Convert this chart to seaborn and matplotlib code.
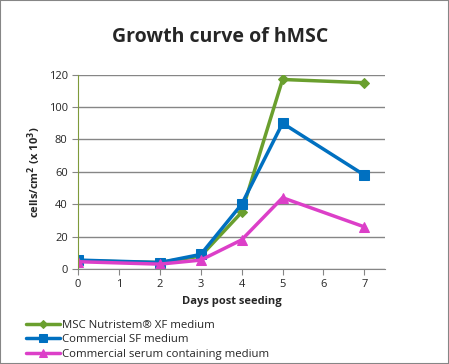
import pandas as pd
import numpy as np
import matplotlib
matplotlib.use("Agg")
import matplotlib.pyplot as plt
import seaborn as sns

days = [0, 2, 3, 4, 5, 7]
nutristem = [5, 4, 8, 35, 117, 115]
commercial_sf = [5.5, 4, 9, 40, 90, 58]
serum = [4.5, 3, 5.5, 18, 44, 26]

series_names = ["MSC Nutristem® XF medium",
                "Commercial SF medium",
                "Commercial serum containing medium"]
colors = ["#6a9f2e", "#0070c0", "#dc3fc8"]
markers = ["D", "s", "^"]
marker_sizes = [5, 7, 7]

sns.set_style("white")
plt.rcParams['font.family'] = ['Open Sans', 'DejaVu Sans']

fig = plt.figure(figsize=(4.49, 3.64), dpi=100)
ax = fig.add_axes([0.174, 0.261, 0.683, 0.534])

for name, vals, c, m, ms in zip(series_names, [nutristem, commercial_sf, serum],
                                colors, markers, marker_sizes):
    df = pd.DataFrame({"day": days, "val": vals})
    sns.lineplot(data=df, x="day", y="val", ax=ax, color=c, marker=m,
                 markersize=ms, markeredgecolor=c, linewidth=2.5, label=name)

ax.set_xlim(0, 7.5)
ax.set_ylim(0, 120)
ax.set_xticks(range(0, 8))
ax.set_yticks(range(0, 121, 20))
ax.yaxis.grid(True, color="#868686", linewidth=1)
ax.set_axisbelow(True)
ax.tick_params(axis="both", labelsize=8, length=4, direction="out", color="#868686",
               bottom=True, left=True)
for s in ["top", "right"]:
    ax.spines[s].set_visible(False)
ax.spines["left"].set_color("#7f9a3a")
ax.spines["bottom"].set_color("#868686")

ax.set_xlabel("Days post seeding", fontsize=8, fontweight="bold")
ax.set_ylabel("cells/cm$^\\mathbf{2}$ (x 10$^\\mathbf{3}$)", fontsize=8, fontweight="bold")

fig.suptitle("Growth curve of hMSC", x=0.49, y=0.925, fontsize=14, fontweight="bold")

handles, labels = ax.get_legend_handles_labels()
ax.get_legend().remove()
fig.legend(handles, labels, loc="lower left", bbox_to_anchor=(0.04, -0.01),
           frameon=False, fontsize=8.2, handlelength=3, handletextpad=0.2,
           labelspacing=0.3, borderaxespad=0.3, markerscale=0.75)

fig.patches.append(plt.Rectangle((0, 0), 1, 1, transform=fig.transFigure,
                                 fill=False, edgecolor="#868686", linewidth=1.5))

fig.savefig("out.png", dpi=100)
